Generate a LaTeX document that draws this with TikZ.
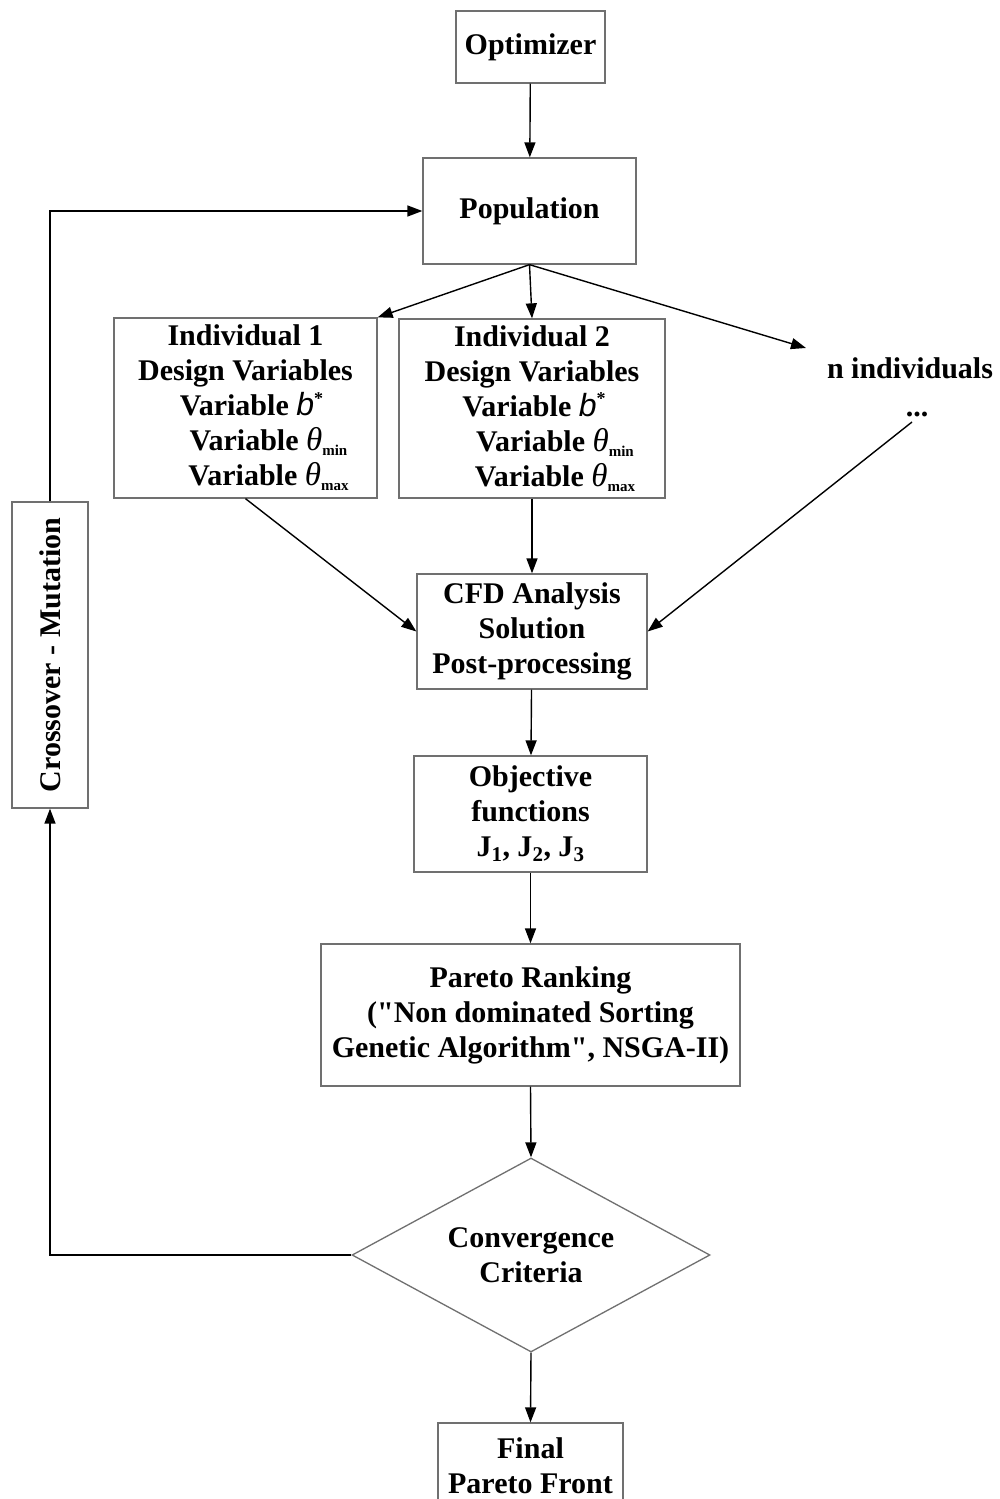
\documentclass[tikz,border=0pt]{standalone}
\usepackage{fontspec}
\setmainfont{Liberation Serif}[Ligatures=TeXOff]
\newfontfamily\bsans{Liberation Sans}
\usetikzlibrary{shapes.geometric,arrows.meta}
\definecolor{boxgray}{HTML}{707070}
\newcommand\varb{Variable {\bsans\itshape\mdseries\fontsize{32}{35}\selectfont b}\raisebox{0.85ex}{\fontsize{18}{18}\selectfont *}}
\newcommand\vth[1]{Variable {\itshape\mdseries\fontsize{33}{35}\selectfont θ}\raisebox{-0.35ex}{\fontsize{15}{15}\selectfont #1}}
\begin{document}
\begin{tikzpicture}[x=1pt,y=-1pt,
  box/.style={draw=boxgray, line width=1.3pt, fill=white, align=center, inner sep=0pt,
    font=\fontsize{30}{35}\selectfont\bfseries},
  plain/.style={align=center, inner sep=0pt, font=\fontsize{30}{35}\selectfont\bfseries},
  arr/.style={-{Triangle[length=15pt,width=11pt]}, line width=1.4pt}]
\useasboundingbox (0,0) rectangle (1000,1499);
\clip (0,0) rectangle (1000,1499);
\fill[white] (0,0) rectangle (1000,1499);

\node[box, minimum width=149, minimum height=72] (opt) at (530.5,47) {Optimizer};
\node[box, minimum width=213, minimum height=106] (pop) at (529.5,211) {Population};
\node[box, minimum width=263, minimum height=180] (ind1) at (245.5,408)
  {Individual 1\\Design Variables\\\hspace*{12pt}\varb\\\hspace*{46pt}\vth{min}\\\hspace*{46pt}\vth{max}};
\node[box, minimum width=266, minimum height=179] (ind2) at (532,408.5)
  {Individual 2\\Design Variables\\\hspace*{4pt}\varb\\\hspace*{46pt}\vth{min}\\\hspace*{46pt}\vth{max}};
\node[plain, anchor=base] (nind) at (910,378) {n individuals};
\node[plain, anchor=base] (dots) at (917,416) {...};
\coordinate (nin) at (806,348);
\coordinate (dotsend) at (912,422);
\node[box, minimum width=230, minimum height=115] (cfd) at (532,631.5)
  {CFD Analysis\\Solution\\Post-processing};
\node[box, minimum width=233, minimum height=116] (obj) at (530.5,814)
  {Objective\\functions\\J\textsubscript{1}, J\textsubscript{2}, J\textsubscript{3}};
\node[box, minimum width=419, minimum height=142] (par) at (530.5,1015)
  {Pareto Ranking\\("Non dominated Sorting\\Genetic Algorithm", NSGA-II)};
\node[box, diamond, aspect=1.85, minimum width=358, minimum height=194] (dia) at (531,1255)
  {Convergence\\Criteria};
\node[box, minimum width=185, minimum height=86] (fin) at (530.5,1466)
  {Final\\Pareto Front};
\node[box, minimum width=76, minimum height=306] (cross) at (50,655)
  {\rotatebox{90}{Crossover - Mutation}};

\draw[arr] (opt) -- (pop);
\draw[arr] (pop.south) -- (ind1.north east);
\draw[arr] (pop.south) -- (ind2.north);
\draw[arr] (pop.south) -- (nin);
\draw[arr] (ind1.south) -- (cfd.west);
\draw[arr] (ind2.south) -- (cfd.north);
\draw[arr] (dotsend) -- (cfd.east);
\draw[arr] (cfd) -- (obj);
\draw[arr] (obj) -- (par);
\draw[arr] (par.south) -- (dia.north);
\draw[arr] (dia.south) -- (fin.north);
\draw[arr] (dia.west) -| (cross.south);
\draw[arr] (cross.north) |- (pop.west);
\end{tikzpicture}
\end{document}
